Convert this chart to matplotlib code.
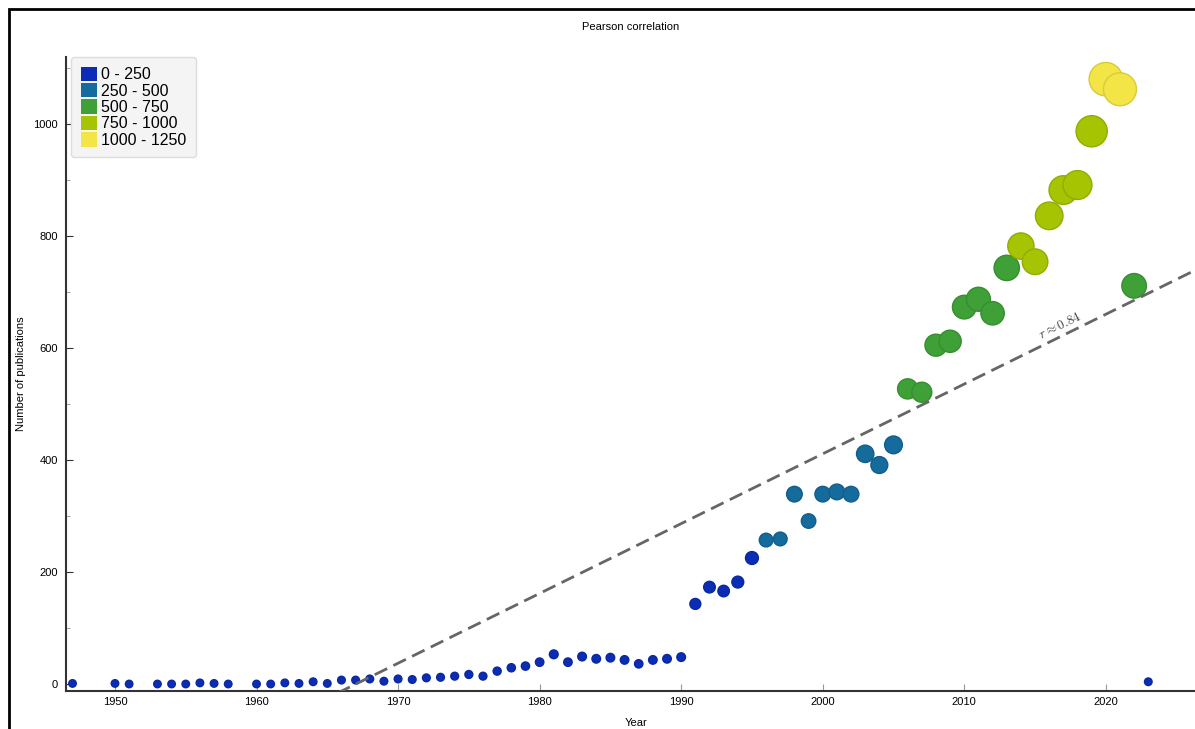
#!/usr/bin/env python3
import numpy as np
import matplotlib
matplotlib.use('Agg')
import matplotlib.pyplot as plt
from matplotlib.patches import Patch, Rectangle
from matplotlib.colors import to_rgb

plt.rcParams['font.family'] = ['Liberation Sans', 'DejaVu Sans']
plt.rcParams['mathtext.fontset'] = 'cm'

# publications per year
years = [1947, 1950, 1951, 1953, 1954, 1955, 1956, 1957, 1958,
	1960, 1961, 1962, 1963, 1964, 1965, 1966, 1967, 1968, 1969,
	1970, 1971, 1972, 1973, 1974, 1975, 1976, 1977, 1978, 1979,
	1980, 1981, 1982, 1983, 1984, 1985, 1986, 1987, 1988, 1989,
	1990, 1991, 1992, 1993, 1994, 1995, 1996, 1997, 1998, 1999,
	2000, 2001, 2002, 2003, 2004, 2005, 2006, 2007, 2008, 2009,
	2010, 2011, 2012, 2013, 2014, 2015, 2016, 2017, 2018, 2019,
	2020, 2021, 2022, 2023]
counts = [1, 1, 0, 0, 0, 0, 2, 1, 0,
	0, 0, 2, 1, 4, 1, 7, 7, 9, 5,
	9, 8, 11, 12, 14, 17, 14, 23, 29, 32,
	39, 53, 39, 49, 45, 47, 43, 36, 43, 45,
	48, 143, 173, 166, 182, 225, 257, 259, 339, 291,
	339, 343, 339, 411, 391, 427, 527, 521, 605, 612,
	673, 687, 662, 743, 782, 754, 836, 882, 891, 987,
	1080, 1062, 711, 4]

bin_edges = [0, 250, 500, 750, 1000, 1250]
bin_labels = ['0 - 250', '250 - 500', '500 - 750', '750 - 1000', '1000 - 1250']
bin_colors = ['#0b2db5', '#156b9c', '#3fa037', '#a6c402', '#f4e546']
r_label = r'$r \approx 0.84$'

years = np.array(years)
counts = np.array(counts)

idx = np.clip(np.digitize(counts, bin_edges) - 1, 0, len(bin_colors) - 1)
face = [bin_colors[i] for i in idx]
edge = [tuple(c * 0.88 for c in to_rgb(bin_colors[i])) for i in idx]
# marker diameter grows with the count
diam_px = 7.5 + 0.024 * counts
sizes = (diam_px * 0.72) ** 2

fig = plt.figure(figsize=(11.95, 7.29), dpi=100)
ax = fig.add_axes([66 / 1195, 1 - 691 / 729, 1 - 66 / 1195 + 0.01, (691 - 57) / 729])

ax.scatter(years, counts, s=sizes, c=face, edgecolors=edge, linewidths=1, zorder=3)

slope, intercept = np.polyfit(years, counts, 1)
xs = np.array([1940, 2030])
ax.plot(xs, slope * xs + intercept, linestyle=(0, (5, 2.5)), color='#666666', lw=2, zorder=4)

ax.set_xlim(1946.54, 2026.3 + 0.01 * 1195 / 14.157)
ax.set_ylim(-12.5, 1119.6)

# rotate the label along the line
x_txt = 2016.8
p1 = ax.transData.transform((2000, slope * 2000 + intercept))
p2 = ax.transData.transform((2020, slope * 2020 + intercept))
angle = np.degrees(np.arctan2(p2[1] - p1[1], p2[0] - p1[0]))
ax.annotate(r_label, (x_txt, slope * x_txt + intercept), xytext=(0, 8), textcoords='offset points',
	rotation=angle, ha='center', va='center', fontsize=9.5, color='#444444', zorder=5)

ax.set_xticks(np.arange(1950, 2030, 10))
ax.set_yticks(np.arange(0, 1200, 200))
ax.set_yticks(np.arange(100, 1200, 200), minor=True)
ax.tick_params(axis='both', which='major', direction='in', length=5, labelsize=8, colors='#333333', labelcolor='black')
ax.tick_params(axis='x', which='major', pad=4, color='#999999')
ax.tick_params(axis='y', which='major', pad=6)
ax.tick_params(axis='y', which='minor', direction='in', length=3, color='#999999')

for s in ['top', 'right']:
	ax.spines[s].set_visible(False)
for s in ['left', 'bottom']:
	ax.spines[s].set_color('#333333')
	ax.spines[s].set_linewidth(1.5)

ax.set_xlabel('Year', fontsize=8, labelpad=8)
ax.set_ylabel('Number of publications', fontsize=8, labelpad=5)
fig.text(631 / 1195, 1 - 27 / 729, 'Pearson correlation', fontsize=8, ha='center', va='center')

handles = [Patch(facecolor=c, edgecolor='none') for c in bin_colors]
leg = ax.legend(handles, bin_labels, loc='upper left', bbox_to_anchor=(5 / 1129, 1.0),
	fontsize=11.5, handlelength=1.0, handleheight=1.0, labelspacing=0.05,
	handletextpad=0.3, borderpad=0.6, borderaxespad=0.0, frameon=True, fancybox=True)
leg.get_frame().set_facecolor('#f4f4f4')
leg.get_frame().set_edgecolor('#dddddd')
leg.get_frame().set_alpha(1)

# black frame around the figure (cut off on the right and bottom)
fig.add_artist(Rectangle((9 / 1195, -0.1), 1.2, 1.1 - 9.5 / 729, transform=fig.transFigure,
	fill=False, edgecolor='black', lw=2))

fig.savefig('out.png', dpi=100)
